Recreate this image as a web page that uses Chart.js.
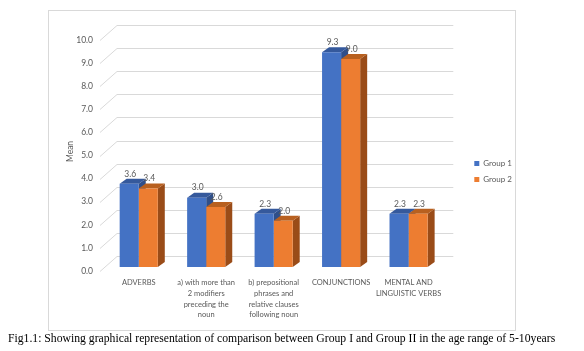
<!DOCTYPE html>
<html><head><meta charset="utf-8">
<script src="https://cdn.jsdelivr.net/npm/chart.js@4.4.1/dist/chart.umd.min.js"></script>
<style>
html,body{margin:0;padding:0;background:#fff;width:584px;height:351px;overflow:hidden;}
#wrap{position:relative;width:584px;height:351px;}
#c{position:absolute;left:0;top:0;}
#frame{position:absolute;left:48px;top:10px;width:466px;height:319px;border:1px solid #d9d9d9;pointer-events:none;}
#cap{position:absolute;left:8px;top:332px;font-family:"Liberation Serif","Times New Roman",serif;font-size:11.7px;color:#000;white-space:nowrap;}
</style></head>
<body><div id="wrap">
<div id="frame"></div>
<canvas id="c" width="584" height="351"></canvas>
<div id="cap">Fig1.1: Showing graphical representation of comparison between Group I and Group II in the age range of 5-10years</div>
</div>
<script>
const categories = [
  "ADVERBS",
  ["a) with more than", "2 modifiers", "preceding the", "noun"],
  ["b) prepositional", "phrases and", "relative clauses", "following noun"],
  "CONJUNCTIONS",
  ["MENTAL AND", "LINGUISTIC VERBS"]
];
const group1 = [3.6, 3.0, 2.3, 9.3, 2.3];
const group2 = [3.4, 2.6, 2.0, 9.0, 2.3];
const seriesNames = ["Group 1", "Group 2"];
const yTicks = [0,1,2,3,4,5,6,7,8,9,10];

const DX = 7, DY = -5;          // bar depth
const GDX = 12, GDY = -11;      // back wall offset
const faceColors = [
  {top:'#35599c', side:'#2f4f8a'},
  {top:'#b8601f', side:'#9a4c18'}
];

function shade(ctx, pts, color){
  ctx.beginPath(); ctx.moveTo(pts[0][0],pts[0][1]);
  for(let i=1;i<pts.length;i++) ctx.lineTo(pts[i][0],pts[i][1]);
  ctx.closePath(); ctx.fillStyle=color; ctx.fill();
}

const threeD = {
  id:'threeD',
  beforeDatasetsDraw(chart){
    const ctx = chart.ctx, y = chart.scales.y, a = chart.chartArea;
    ctx.save();
    ctx.strokeStyle = '#d9d9d9'; ctx.lineWidth = 1;
    yTicks.forEach(v=>{
      const py = Math.round(y.getPixelForValue(v)) + 0.5;
      ctx.beginPath();
      ctx.moveTo(a.left + GDX, py + GDY);
      ctx.lineTo(a.right + GDX - 1, py + GDY);
      ctx.moveTo(a.left - 5, py + 4);
      ctx.lineTo(a.left + GDX, py + GDY);
      ctx.stroke();
    });
    [0,1].forEach(di=>{
      const meta = chart.getDatasetMeta(di);
      meta.data.forEach(bar=>{
        const {x, y:top, base, width} = bar.getProps(['x','y','base','width'], true);
        const l = x - width/2, r = x + width/2;
        shade(ctx, [[r,top],[r+DX,top+DY],[r+DX,base+DY],[r,base]], faceColors[di].side);
        shade(ctx, [[l,top],[l+DX,top+DY],[r+DX,top+DY],[r,top]], faceColors[di].top);
      });
    });
    ctx.restore();
  },
  afterDatasetsDraw(chart){
    const ctx = chart.ctx;
    ctx.save();
    ctx.font = '8.5px Lato';
    ctx.fillStyle = '#595959';
    ctx.textAlign = 'center'; ctx.textBaseline = 'middle';
    chart.data.datasets.forEach((ds,di)=>{
      chart.getDatasetMeta(di).data.forEach((bar,i)=>{
        ctx.fillText(ds.data[i].toFixed(1), bar.x + 1, bar.y - 10);
      });
    });
    ctx.restore();
  }
};

new Chart(document.getElementById('c'), {
  type:'bar',
  data:{
    labels: categories,
    datasets:[
      {label: seriesNames[0], data: group1, backgroundColor:'#4472C4', categoryPercentage:0.565, barPercentage:1.0, yAxisID:'y'},
      {label: seriesNames[1], data: group2, backgroundColor:'#ED7D31', categoryPercentage:0.565, barPercentage:1.0, yAxisID:'y'}
    ]
  },
  options:{
    responsive:false, animation:false, devicePixelRatio:1,
    layout:{padding:{left:55, top:36, right:62, bottom:0}},
    plugins:{
      legend:{
        position:'right', fullSize:false, align:'center',
        labels:{boxWidth:5, boxHeight:5, padding:8, color:'#595959', font:{family:'Lato', size:8}},
        title:{display:true, text:'', padding:{top:29, bottom:0}, font:{size:9}}
      },
      tooltip:{enabled:false}
    },
    scales:{
      x:{
        grid:{display:false, drawTicks:false}, border:{display:false},
        ticks:{color:'#595959', font:{family:'Lato', size:7.5, lineHeight:1.45}, maxRotation:0, autoSkip:false, padding:10},
        afterFit(s){ s.height = 84; }
      },
      y:{
        min:0, max:10,
        grid:{display:false, drawTicks:false}, border:{display:false},
        ticks:{stepSize:1, color:'#595959', font:{family:'Lato', size:8.5}, padding:12, labelOffset:4,
               callback:(v)=>Number(v).toFixed(1)},
        title:{display:true, text:'Mean', color:'#595959', font:{family:'Lato', size:8.5}, padding:{top:10,bottom:0}},
        afterFit(s){ s.width = 50; }
      },
      y2:{
        type:'linear', position:'right', display:true,
        grid:{display:false, drawTicks:false}, border:{display:false},
        ticks:{display:false},
        afterFit(s){ s.width = 24; }
      }
    }
  },
  plugins:[threeD]
});
</script>
</body></html>
